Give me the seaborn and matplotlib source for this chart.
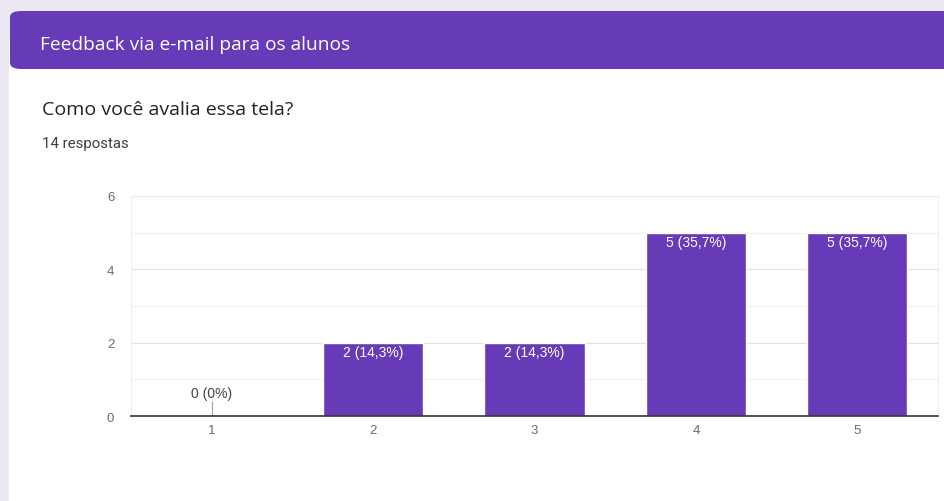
import matplotlib
matplotlib.use("Agg")
import matplotlib.pyplot as plt
from matplotlib.patches import FancyBboxPatch, Rectangle
from matplotlib.ticker import MultipleLocator
import seaborn as sns
import pandas as pd

# Survey answers
header = "Feedback via e-mail para os alunos"
question = "Como você avalia essa tela?"
responses_label = "14 respostas"
ratings = ["1", "2", "3", "4", "5"]
counts = [0, 2, 2, 5, 5]

PURPLE = "#673ab7"
W, H = 945, 502
CHART_FONT = ["Liberation Sans", "DejaVu Sans"]
TITLE_FONT = ["Open Sans", "DejaVu Sans"]

sns.set_theme(style="white")
plt.rcParams["font.family"] = ["Roboto", "DejaVu Sans"]

fig = plt.figure(figsize=(W / 100, H / 100), dpi=100)
fig.patch.set_facecolor("#ece8f4")


def fx(px):
    return px / W


def fy(py):
    return 1 - py / H


# white card with purple header band
fig.patches.append(Rectangle((fx(9), 0), 1 - fx(9), fy(40), transform=fig.transFigure,
                             facecolor="white", edgecolor="none", zorder=-10))
fig.patches.append(FancyBboxPatch((fx(10), fy(70)), 1 - fx(10) + 0.02, fy(12) - fy(70),
                                  boxstyle="round,pad=0,rounding_size=0.012",
                                  transform=fig.transFigure, facecolor=PURPLE,
                                  edgecolor="none", zorder=-5))
fig.text(fx(40), fy(50), header, color="white", fontsize=13.8, va="baseline", ha="left",
         family=TITLE_FONT)
fig.text(fx(42), fy(115), question, color="#202124", fontsize=14, va="baseline", ha="left",
         family=TITLE_FONT)
fig.text(fx(42), fy(148), responses_label, color="#3c4043", fontsize=10.8, va="baseline", ha="left")

ax = fig.add_axes([fx(131), fy(417), fx(938) - fx(131), fy(197) - fy(417)])
ax.set_facecolor("white")

df = pd.DataFrame({"rating": ratings, "count": counts})
sns.barplot(data=df, x="rating", y="count", color=PURPLE, saturation=1,
            width=0.62, ax=ax, zorder=3)

ax.set_xlim(-0.5, len(ratings) - 0.5)
ax.set_ylim(0, 6)
ax.yaxis.set_major_locator(MultipleLocator(2))
ax.yaxis.set_minor_locator(MultipleLocator(1))
ax.grid(axis="y", which="major", color="#e3e3e3", linewidth=0.9, zorder=0)
ax.grid(axis="y", which="minor", color="#f1f1f1", linewidth=0.9, zorder=0)
ax.set_axisbelow(True)
ax.set_xlabel("")
ax.set_ylabel("")

for side in ["left", "right", "top"]:
    ax.spines[side].set_color("#eeeeee")
    ax.spines[side].set_linewidth(0.8)
ax.spines["bottom"].set_color("#333333")
ax.spines["bottom"].set_linewidth(1.2)
ax.spines["bottom"].set_zorder(5)

ax.tick_params(axis="both", which="both", length=0, labelsize=9.5, labelcolor="#6b6b6b")
ax.tick_params(axis="y", pad=12)
ax.tick_params(axis="x", pad=6)
for lab in ax.get_xticklabels() + ax.get_yticklabels():
    lab.set_family(CHART_FONT)

total = sum(counts)
for i, v in enumerate(counts):
    pct = round(100 * v / total, 1)
    pct_txt = (f"{pct:.1f}".rstrip("0").rstrip(".")).replace(".", ",")
    label = f"{v} ({pct_txt}%)"
    if v > 0:
        ax.text(i, v - 0.07, label, color="white", fontsize=10, ha="center", va="top",
                zorder=6, family=CHART_FONT)
    else:
        ax.vlines(i, v, v + 0.42, color="#9e9e9e", linewidth=0.8, zorder=4)
        ax.text(i, v + 0.44, label, color="#444444", fontsize=10, ha="center", va="bottom",
                zorder=6, family=CHART_FONT)

fig.savefig("out.png", dpi=100, facecolor=fig.get_facecolor())
